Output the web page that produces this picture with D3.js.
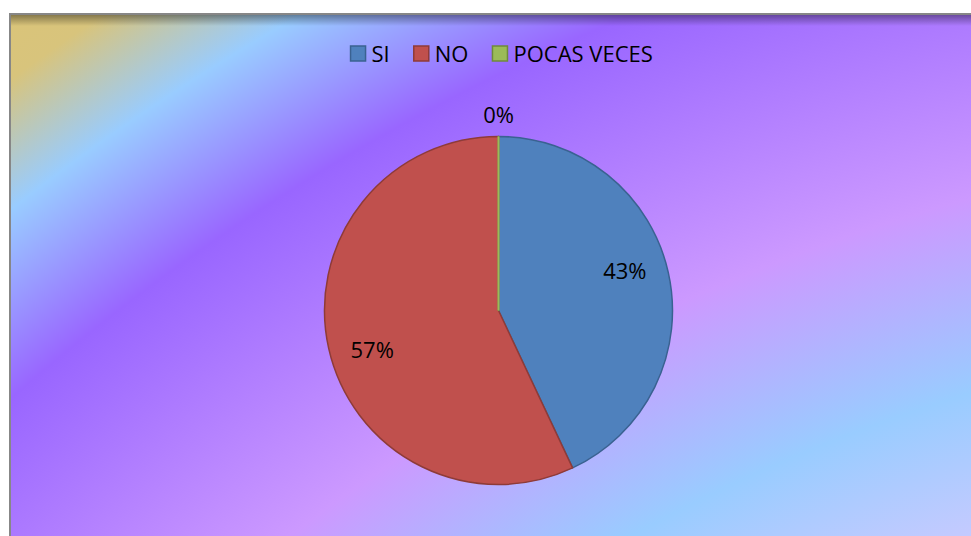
<!DOCTYPE html>
<html>
<head>
<meta charset="utf-8">
<script src="https://cdn.jsdelivr.net/npm/d3@7"></script>
<style>
    body { margin: 0; background: #ffffff; }
    text { font-family: "Open Sans", "Noto Sans", sans-serif; fill: #000; }
</style>
</head>
<body>
<div id="chart-container"></div>
<script>
let categories = ["SI", "NO", "POCAS VECES"];
let values = [43, 57, 0];
let pctLabels = ["43%", "57%", "0%"];
let fillColors = ["#4f81bd", "#c0504d", "#9bbb59"];
let strokeColors = ["#3a6291", "#8e3b38", "#6f8a3c"];

let width = 971, height = 536;
let cx = 498.5, cy = 310.5, radius = 174;

let svg = d3.select("#chart-container").append("svg")
    .attr("width", width)
    .attr("height", height);

let defs = svg.append("defs");

// background looks like concentric bands around a point far down-right
let bg = defs.append("radialGradient")
    .attr("id", "bgGrad")
    .attr("gradientUnits", "userSpaceOnUse")
    .attr("cx", 1485).attr("cy", 2090).attr("r", 2600)
    .attr("fx", 1485).attr("fy", 2090);
let bgStops = [
    [0.60, "#cfd0ff"],
    [0.63, "#c4caff"],
    [0.682, "#99ccff"],
    [0.754, "#cc99ff"],
    [0.863, "#9966ff"],
    [0.919, "#99ccff"],
    [0.959, "#d8c47c"],
    [1.0, "#dcc476"]
];
bgStops.forEach(function (s) {
    bg.append("stop").attr("offset", s[0]).attr("stop-color", s[1]);
});

let shadow = defs.append("linearGradient")
    .attr("id", "topShadow")
    .attr("x1", 0).attr("y1", 0).attr("x2", 0).attr("y2", 1);
shadow.append("stop").attr("offset", 0).attr("stop-color", "#000").attr("stop-opacity", 0.38);
shadow.append("stop").attr("offset", 1).attr("stop-color", "#000").attr("stop-opacity", 0);

svg.append("rect")
    .attr("x", 10).attr("y", 14)
    .attr("width", width + 20).attr("height", height + 20)
    .attr("fill", "url(#bgGrad)");

svg.append("rect")
    .attr("x", 10).attr("y", 15)
    .attr("width", width).attr("height", 11)
    .attr("fill", "url(#topShadow)");

svg.append("rect")
    .attr("x", 10).attr("y", 14)
    .attr("width", width + 20).attr("height", height + 20)
    .attr("fill", "none")
    .attr("stroke", "#878787")
    .attr("stroke-width", 2);

//pie
let pie = d3.pie().sort(null).value(function (d) { return d; });
let arcs = pie(values);
let arc = d3.arc().innerRadius(0).outerRadius(radius);

let g = svg.append("g").attr("transform", "translate(" + cx + "," + cy + ")");

g.selectAll("path.slice")
    .data(arcs)
    .enter().append("path")
    .attr("class", "slice")
    .attr("d", arc)
    .attr("fill", function (d, i) { return fillColors[i]; })
    .attr("stroke", function (d, i) { return strokeColors[i]; })
    .attr("stroke-width", 1.5)
    .attr("stroke-linejoin", "round");

// zero slice only shows as a line, draw it again on top
g.append("path")
    .attr("d", arc(arcs[2]))
    .attr("fill", "none")
    .attr("stroke", fillColors[2])
    .attr("stroke-width", 2);

//data labels
let labelR = radius * 0.76;
g.selectAll("text.lbl")
    .data(arcs)
    .enter().append("text")
    .attr("class", "lbl")
    .attr("text-anchor", "middle")
    .attr("font-size", "22px")
    .attr("x", function (d) {
        if (d.value === 0) return d3.pointRadial(d.startAngle, radius + 22)[0];
        let a = (d.startAngle + d.endAngle) / 2 - 0.08;
        return d3.pointRadial(a, labelR)[0];
    })
    .attr("y", function (d) {
        if (d.value === 0) return d3.pointRadial(d.startAngle, radius + 22)[1] + 8;
        let a = (d.startAngle + d.endAngle) / 2 - 0.08;
        return d3.pointRadial(a, labelR)[1] + 8;
    })
    .text(function (d, i) { return pctLabels[i]; });

//legend
let legend = svg.append("g");
let boxSize = 15, boxGap = 6, itemGap = 24;
let xPos = 0;
categories.forEach(function (name, i) {
    let item = legend.append("g").attr("transform", "translate(" + xPos + ",0)");
    item.append("rect")
        .attr("x", 0).attr("y", 46)
        .attr("width", boxSize).attr("height", boxSize)
        .attr("fill", fillColors[i])
        .attr("stroke", strokeColors[i])
        .attr("stroke-width", 1.5);
    let t = item.append("text")
        .attr("x", boxSize + boxGap)
        .attr("y", 61.5)
        .attr("font-size", "22px")
        .text(name);
    xPos += boxSize + boxGap + t.node().getComputedTextLength() + itemGap;
});
let legendW = xPos - itemGap;
legend.attr("transform", "translate(" + (501.7 - legendW / 2) + ",0)");
</script>
</body>
</html>
